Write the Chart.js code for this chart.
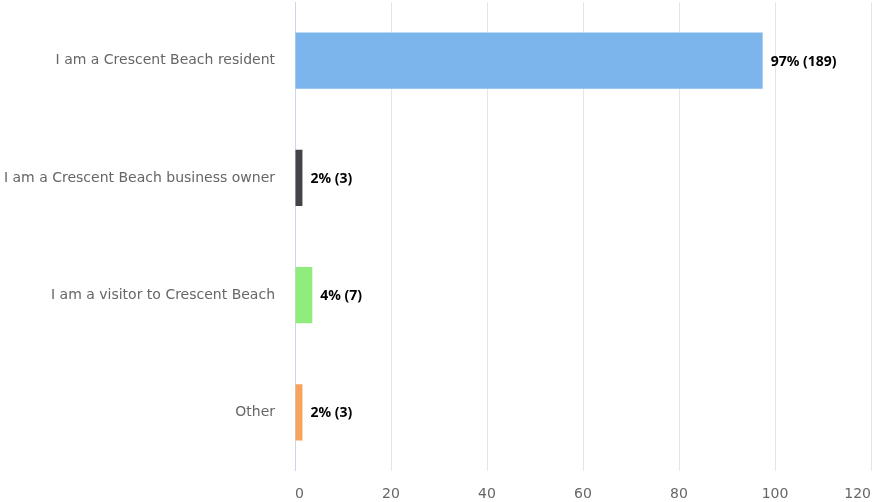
<!DOCTYPE html>
<html>
<head>
<meta charset="utf-8">
<title>Crescent Beach survey</title>
<script src="https://cdn.jsdelivr.net/npm/chart.js@4"></script>
<style>
  html, body { margin: 0; padding: 0; background: #fff; }
  #wrap { width: 873px; height: 502px; }
</style>
</head>
<body>
<div id="wrap"><canvas id="surveyChart" width="873" height="502"></canvas></div>
<script>
const categories = [
  'I am a Crescent Beach resident',
  'I am a Crescent Beach business owner',
  'I am a visitor to Crescent Beach',
  'Other'
];
const responseCounts = [189, 3, 7, 3];
const respondents = 194;
const barColors = ['#7cb5ec', '#434348', '#90ed7d', '#f7a35c'];
const xTicks = [0, 20, 40, 60, 80, 100, 120];

const percents = responseCounts.map(c => c / respondents * 100);

// writes "97% (189)" next to the end of each bar
const barLabels = {
  id: 'barLabels',
  afterDatasetsDraw(chart) {
    const ctx = chart.ctx;
    const meta = chart.getDatasetMeta(0);
    ctx.save();
    ctx.font = 'bold 14px "Noto Sans", sans-serif';
    ctx.fillStyle = '#000';
    ctx.textAlign = 'left';
    ctx.textBaseline = 'middle';
    meta.data.forEach((bar, i) => {
      const text = Math.round(percents[i]) + '% (' + responseCounts[i] + ')';
      ctx.fillText(text, bar.x + 8, bar.y + 1);
    });
    ctx.restore();
  }
};

// no extra room for half-labels at the ends of the axes
function noEdgePadding(scale) {
  scale.paddingTop = 0;
  scale.paddingBottom = 0;
  scale.paddingLeft = 0;
  scale.paddingRight = 0;
}

const ctx = document.getElementById('surveyChart').getContext('2d');
new Chart(ctx, {
  type: 'bar',
  data: {
    labels: categories,
    datasets: [{
      data: percents,
      backgroundColor: barColors,
      barPercentage: 0.48,
      categoryPercentage: 1
    }]
  },
  options: {
    indexAxis: 'y',
    responsive: false,
    animation: false,
    layout: { padding: { top: 2, right: 2, left: 0, bottom: 0 } },
    plugins: {
      legend: { display: false },
      tooltip: { enabled: false }
    },
    scales: {
      x: {
        min: 0,
        max: 120,
        afterBuildTicks(scale) {
          scale.ticks = xTicks.map(v => ({ value: v }));
        },
        afterFit(scale) {
          scale.height = 31;
          noEdgePadding(scale);
        },
        grid: {
          drawTicks: false,
          color: c => (c.tick && c.tick.value === 0 ? '#ccd6eb' : '#e6e6e6')
        },
        border: { display: false },
        ticks: {
          padding: 15,
          maxRotation: 0,
          align: 'inner',
          color: '#666',
          font: { family: '"DejaVu Sans", sans-serif', size: 14 }
        }
      },
      y: {
        afterFit(scale) {
          scale.width = 295;
          noEdgePadding(scale);
        },
        grid: { display: false, drawTicks: false },
        border: { display: false },
        ticks: {
          padding: 20,
          color: '#666',
          font: { family: '"DejaVu Sans", sans-serif', size: 14 }
        }
      }
    }
  },
  plugins: [barLabels]
});
</script>
</body>
</html>
